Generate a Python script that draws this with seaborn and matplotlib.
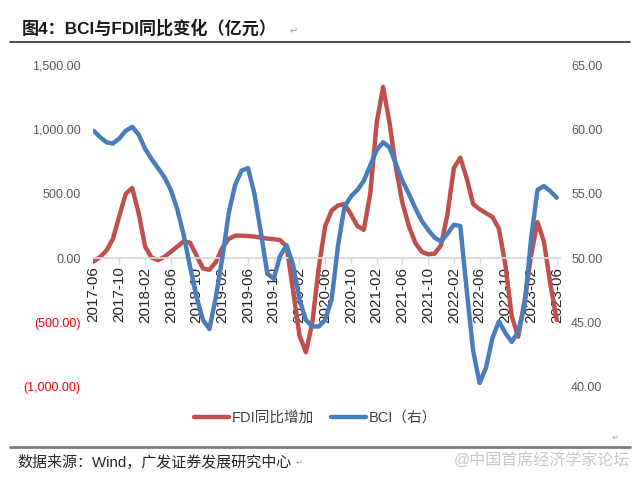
import numpy as np
import pandas as pd
import matplotlib
matplotlib.use('Agg')
import matplotlib.pyplot as plt
import seaborn as sns

# monthly values, 2017-06 .. 2023-06
fdi = [-25, 10, 60, 150, 330, 500, 545, 350, 90, 5,
       -15, 10, 50, 90, 130, 120, 20, -80, -90, -30,
       80, 150, 175, 175, 172, 168, 160, 152, 148, 140,
       90, -250, -600, -730, -500, -70, 250, 370, 410, 420,
       340, 250, 220, 500, 1050, 1330, 1050, 700, 430, 250,
       120, 50, 30, 35, 100, 340, 700, 780, 620, 420,
       380, 350, 320, 230, -50, -450, -610, -330, 20, 280,
       130, -200, -480]
bci = [59.9, 59.4, 59.0, 58.9, 59.3, 59.9, 60.2, 59.6, 58.5, 57.7,
       57.0, 56.3, 55.3, 53.8, 51.8, 49.3, 47.0, 45.2, 44.5, 47.0,
       50.0, 53.5, 55.7, 56.8, 57.0, 55.0, 52.0, 48.8, 48.4, 50.2,
       51.0, 49.5, 46.8, 45.2, 44.7, 44.7, 45.2, 46.8, 51.0, 54.0,
       54.8, 55.3, 56.0, 57.2, 58.4, 59.0, 58.6, 57.3, 56.0, 55.0,
       53.9, 52.9, 52.2, 51.6, 51.3, 51.9, 52.6, 52.5, 47.5, 42.8,
       40.3, 41.5, 43.8, 45.1, 44.2, 43.5, 44.3, 46.3, 51.5, 55.3,
       55.6, 55.2, 54.7]
tick_labels = ['2017-06', '2017-10', '2018-02', '2018-06', '2018-10', '2019-02',
               '2019-06', '2019-10', '2020-02', '2020-06', '2020-10', '2021-02',
               '2021-06', '2021-10', '2022-02', '2022-06', '2022-10', '2023-02',
               '2023-06']
left_ticks = [-1000, -500, 0, 500, 1000, 1500]
right_ticks = [40, 45, 50, 55, 60, 65]

df = pd.DataFrame({'m': np.arange(len(fdi)), 'fdi': fdi, 'bci': bci})

sns.set_theme(style='white')
plt.rcParams['font.family'] = ['Liberation Sans', 'Noto Sans CJK SC', 'DejaVu Sans']

red = '#c0504d'
blue = '#4a7ebb'
grey = '#595959'

fig = plt.figure(figsize=(6.4, 4.83), dpi=100)
ax = fig.add_axes([0.1453, 0.1988, 0.7297, 0.6666])
ax2 = ax.twinx()

line_kw = dict(linewidth=3.2, solid_joinstyle='round', solid_capstyle='round')
sns.lineplot(data=df, x='m', y='fdi', ax=ax, color=red,
             label='FDI同比增加', legend=False, **line_kw)
sns.lineplot(data=df, x='m', y='bci', ax=ax2, color=blue,
             label='BCI（右）', legend=False, **line_kw)

ax.set_xlim(-0.1, 72.5)
ax.set_ylim(-1000, 1500)
ax2.set_ylim(40, 65)
ax.set_xlabel('')
ax.set_ylabel('')
ax2.set_ylabel('')

ax.set_xticks(np.arange(0, len(fdi), 4))
ax.set_xticklabels(tick_labels, fontsize=9.5, color=grey)
ax.tick_params(axis='x', direction='out', length=4, width=1, color='#d9d9d9',
               pad=2, bottom=True, labelrotation=90)

ax.set_yticks(left_ticks)
ax.set_yticklabels([f'{v:,.2f}' if v >= 0 else f'({-v:,.2f})' for v in left_ticks],
                   fontsize=9)
for lab, v in zip(ax.get_yticklabels(), left_ticks):
    lab.set_color('#ff0000' if v < 0 else grey)
ax.tick_params(axis='y', length=0, pad=9)

ax2.set_yticks(right_ticks)
ax2.set_yticklabels([f'{v:.2f}' for v in right_ticks], fontsize=9, color=grey)
ax2.tick_params(axis='y', length=0, pad=8)

for a in (ax, ax2):
    for s in a.spines.values():
        s.set_visible(False)
    a.grid(False)
ax.spines['bottom'].set_visible(True)
ax.spines['bottom'].set_position(('data', 0))
ax.spines['bottom'].set_color('#d9d9d9')
ax.spines['bottom'].set_linewidth(1.3)

h1, l1 = ax.get_legend_handles_labels()
h2, l2 = ax2.get_legend_handles_labels()
fig.legend(h1 + h2, l1 + l2, loc='center', bbox_to_anchor=(0.493, 0.135), ncol=2,
           frameon=False, fontsize=10.5, handlelength=2.4, handletextpad=0.15,
           columnspacing=1.2, labelcolor='#404040')

# title and source
fig.text(0.034, 0.942, '图4：BCI与FDI同比变化（亿元）', fontsize=12.3, fontweight='bold',
         color='#1a1a1a', va='center')
fig.text(0.452, 0.936, '↵', fontsize=7, color='#a0a0a0', va='center',
         family='DejaVu Sans')
fig.add_artist(plt.Line2D([0.016, 0.984], [0.913, 0.913], color='#404040', lw=1.3))
fig.add_artist(plt.Line2D([0.016, 0.984], [0.075, 0.075], color='#808080', lw=2))
fig.text(0.956, 0.094, '↵', fontsize=6, color='#a0a0a0', va='center',
         family='DejaVu Sans')
fig.text(0.028, 0.045, '数据来源：Wind，广发证券发展研究中心', fontsize=10.8,
         color='#262626', va='center')
fig.text(0.462, 0.042, '↵', fontsize=6, color='#a0a0a0', va='center',
         family='DejaVu Sans')
fig.text(0.985, 0.045, '@中国首席经济学家论坛', fontsize=11.5, color='#c8c8c8',
         va='center', ha='right')

fig.savefig('out.png', dpi=100)
